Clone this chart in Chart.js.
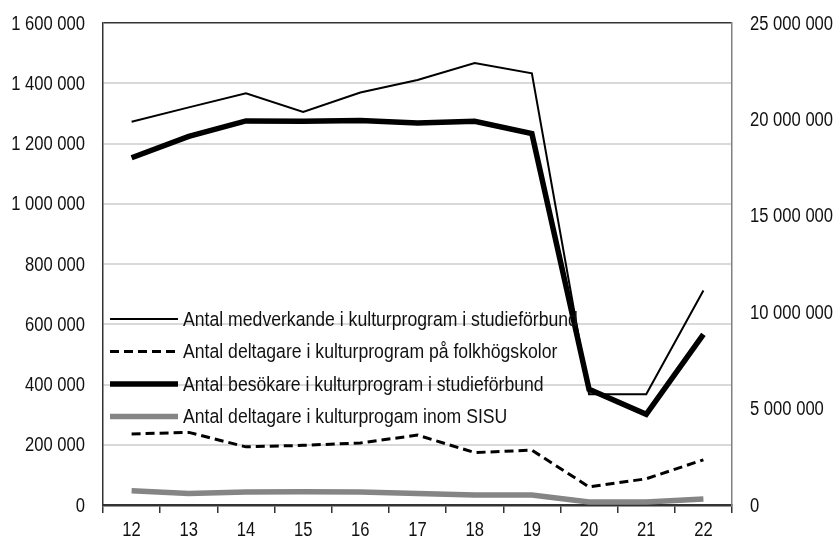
<!DOCTYPE html>
<html lang="sv">
<head>
<meta charset="utf-8">
<title>Kulturprogram</title>
<script src="https://cdn.jsdelivr.net/npm/chart.js@4"></script>
<style>
    html, body { margin: 0; padding: 0; background: #fff; }
    #wrap { width: 837px; height: 539px; position: relative; }
</style>
</head>
<body>
<div id="wrap"><canvas id="myChart"></canvas></div>
<script>
const years = ['12', '13', '14', '15', '16', '17', '18', '19', '20', '21', '22']

// vänster axel
const medverkande = [1272000, 1320000, 1367000, 1305000, 1369000, 1411000, 1467000, 1433000, 368000, 368000, 712000]
const folkhogskolor = [236000, 241000, 193000, 198000, 206000, 232000, 174000, 182000, 60000, 87000, 150000]
const sisu = [47000, 38000, 43000, 44000, 43000, 38000, 33000, 33000, 10000, 10000, 20000]

// höger axel
const besokare = [18010000, 19120000, 19920000, 19900000, 19940000, 19810000, 19900000, 19260000, 6000000, 4700000, 8850000]

const leftTicks = [0, 200000, 400000, 600000, 800000, 1000000, 1200000, 1400000, 1600000]
const rightTicks = [0, 5000000, 10000000, 15000000, 20000000, 25000000]

const labels = [
    'Antal medverkande i kulturprogram i studieförbund',
    'Antal deltagare i kulturprogram på folkhögskolor',
    'Antal besökare i kulturprogram i studieförbund',
    'Antal deltagare i kulturprogam inom SISU'
]

// smal grotesk: Liberation Sans ihoptryckt i x-led
const FONT = "'Liberation Sans', Arial, sans-serif"
const TEXT_COLOR = '#111'

function spaced(v) {
    return String(v).replace(/\B(?=(\d{3})+(?!\d))/g, ' ')
}

function narrowText(ctx, text, x, y, align, size, squeeze) {
    ctx.save()
    ctx.translate(x, y)
    ctx.scale(squeeze, 1)
    ctx.font = size + 'px ' + FONT
    ctx.fillStyle = TEXT_COLOR
    ctx.textAlign = align
    ctx.textBaseline = 'middle'
    ctx.fillText(text, 0, 0)
    ctx.restore()
}

// axeltexterna ritas här så att de kan bli smala
const axisText = {
    id: 'axisText',
    afterDraw(chart) {
        const ctx = chart.ctx
        const area = chart.chartArea
        const s = chart.scales
        leftTicks.forEach(v => {
            narrowText(ctx, spaced(v), area.left - 18, s.y.getPixelForValue(v) + 1, 'right', 20, 0.83)
        })
        rightTicks.forEach(v => {
            narrowText(ctx, spaced(v), area.right + 18, s.y1.getPixelForValue(v) + 1, 'left', 20, 0.83)
        })
        years.forEach((yr, i) => {
            narrowText(ctx, yr, s.x.getPixelForTick(i), area.bottom + 25, 'center', 20, 0.83)
        })
    }
}

// legenden ligger inne i diagramytan, nere till vänster
const insideLegend = {
    id: 'insideLegend',
    afterDatasetsDraw(chart) {
        const ctx = chart.ctx
        const area = chart.chartArea
        chart.data.datasets.forEach((ds, i) => {
            const y = area.top + 296 + i * 32.5
            ctx.save()
            ctx.beginPath()
            ctx.strokeStyle = ds.borderColor
            ctx.lineWidth = ds.borderWidth
            ctx.setLineDash(ds.borderDash || [])
            ctx.lineCap = 'butt'
            ctx.moveTo(area.left + 7, y)
            ctx.lineTo(area.left + 75, y)
            ctx.stroke()
            ctx.restore()
            narrowText(ctx, ds.label, area.left + 80, y + 1, 'left', 20.5, 0.86)
        })
    }
}

const data = {
    labels: years,
    datasets: [
        {
            label: labels[0],
            data: medverkande,
            yAxisID: 'y',
            borderColor: '#000',
            borderWidth: 2
        },
        {
            label: labels[1],
            data: folkhogskolor,
            yAxisID: 'y',
            borderColor: '#000',
            borderWidth: 3,
            borderDash: [9, 5]
        },
        {
            label: labels[2],
            data: besokare,
            yAxisID: 'y1',
            borderColor: '#000',
            borderWidth: 5.5
        },
        {
            label: labels[3],
            data: sisu,
            yAxisID: 'y',
            borderColor: '#858585',
            borderWidth: 5.5
        }
    ]
}

const config = {
    type: 'line',
    data: data,
    plugins: [insideLegend, axisText],
    options: {
        responsive: true,
        maintainAspectRatio: false,
        animation: false,
        layout: { padding: { top: 23, left: 0, right: 0, bottom: 0 } },
        elements: {
            point: { radius: 0 },
            line: { tension: 0, borderJoinStyle: 'miter', fill: false }
        },
        plugins: {
            legend: { display: false },
            tooltip: { enabled: false }
        },
        scales: {
            x: {
                offset: true,
                grid: {
                    offset: true,
                    drawOnChartArea: false,
                    drawTicks: true,
                    tickLength: 8,
                    color: '#333',
                    lineWidth: 1.5
                },
                border: { color: '#333', width: 2.5 },
                ticks: { display: false },
                afterFit: (scale) => { scale.height = 34 }
            },
            y: {
                position: 'left',
                min: 0,
                max: 1600000,
                afterBuildTicks: (scale) => { scale.ticks = leftTicks.map(v => ({ value: v })) },
                grid: {
                    drawTicks: false,
                    color: (c) => c.tick.value === 1600000 ? '#333' : (c.tick.value === 0 ? 'rgba(0,0,0,0)' : '#d9d9d9'),
                    lineWidth: (c) => c.tick.value === 1600000 ? 1.5 : 2
                },
                border: { color: '#333', width: 1.5 },
                ticks: { display: false },
                afterFit: (scale) => { scale.width = 103 }
            },
            y1: {
                position: 'right',
                min: 0,
                max: 25000000,
                afterBuildTicks: (scale) => { scale.ticks = rightTicks.map(v => ({ value: v })) },
                grid: { drawOnChartArea: false, drawTicks: false },
                border: { color: '#808080', width: 1.5 },
                ticks: { display: false },
                afterFit: (scale) => { scale.width = 105 }
            }
        }
    }
}

let chartCanvas = new Chart(
    document.querySelector('#myChart'),
    config
)
</script>
</body>
</html>
